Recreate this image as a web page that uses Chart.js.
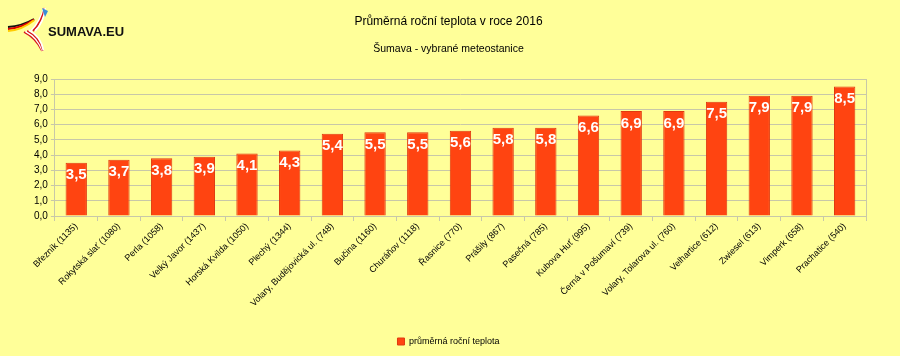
<!DOCTYPE html>
<html><head><meta charset="utf-8">
<script src="https://cdn.jsdelivr.net/npm/chart.js@4"></script>
<style>
html,body{margin:0;padding:0;background:#FFFF99;}
#wrap{position:relative;width:900px;height:356px;}
</style></head>
<body><div id="wrap"><canvas id="c" width="900" height="356"></canvas>
<div style="position:absolute;left:48px;top:24px;font:bold 13px 'Liberation Sans',Arial,sans-serif;color:#111;">SUMAVA.EU</div></div>
<script>
const categories = ["Březník (1135)","Rokytská slať (1080)","Perla (1058)","Velký Javor (1437)","Horská Kvilda (1050)","Plechý (1344)","Volary, Budějovická ul. (748)","Bučina (1160)","Churáňov (1118)","Řasnice (770)","Prášily (867)","Pasečná (785)","Kubova Huť (995)","Černá v Pošumaví (739)","Volary, Tolarova ul. (760)","Velhartice (612)","Zwiesel (613)","Vimperk (658)","Prachatice (540)"];
const temperature = [3.5,3.7,3.8,3.9,4.1,4.3,5.4,5.5,5.5,5.6,5.8,5.8,6.6,6.9,6.9,7.5,7.9,7.9,8.5];
const seriesName = "průměrná roční teplota";
const titleText = "Průměrná roční teplota v roce 2016";
const subtitleText = "Šumava - vybrané meteostanice";

const fmt = v => v.toFixed(1).replace('.', ',');
const FONT = "'Liberation Sans', Arial, sans-serif";

function swoosh(ctx, colors, x0,y0, cx,cy, x1,y1, dx,dy, w){
  colors.forEach((c,i)=>{
    ctx.strokeStyle=c; ctx.lineWidth=w;
    ctx.beginPath();
    ctx.moveTo(x0+i*dx, y0+i*dy);
    ctx.quadraticCurveTo(cx+i*dx, cy+i*dy, x1+i*dx*0.3, y1+i*dy*0.3);
    ctx.stroke();
  });
}

const extras = {
  id:'extras',
  beforeDraw(chart){
    const ctx = chart.ctx;
    ctx.save();
    ctx.fillStyle = '#FFFF99';
    ctx.fillRect(0,0,chart.width,chart.height);
    ctx.lineCap='butt';
    swoosh(ctx,['#111111','#DD0000','#FFCC00'], 8,27, 22,26, 34,19, 0,2, 2);
    swoosh(ctx,['#FFFFFF','#D7141A','#FFFFFF'], 31,31, 40,22, 44,8, 2,0, 1.8);
    ctx.fillStyle='#3A8FD8';
    ctx.beginPath(); ctx.moveTo(42,8); ctx.lineTo(48,11); ctx.lineTo(45,17); ctx.closePath(); ctx.fill();
    swoosh(ctx,['#D7141A','#FFFFFF','#D7141A','#FFFFFF'], 24,32, 36,38, 42,51, 1.6,-0.6, 1.7);
    ctx.restore();
  },
  afterDatasetsDraw(chart){
    const ctx = chart.ctx;
    const meta = chart.getDatasetMeta(0);
    ctx.save();
    ctx.font = "bold 15px " + FONT;
    ctx.fillStyle = '#FFFFFF';
    ctx.textAlign = 'center';
    ctx.textBaseline = 'top';
    meta.data.forEach((bar,i)=>{
      ctx.fillText(fmt(temperature[i]), bar.x, bar.y + 5);
    });
    const a = chart.chartArea;
    ctx.strokeStyle = '#C8C8A8';
    ctx.lineWidth = 1;
    ctx.beginPath();
    ctx.moveTo(Math.round(a.right)+0.5, a.top);
    ctx.lineTo(Math.round(a.right)+0.5, a.bottom+5);
    ctx.stroke();
    ctx.restore();
  }
};

new Chart(document.getElementById('c'), {
  type:'bar',
  data:{labels:categories, datasets:[{label:seriesName, data:temperature,
    backgroundColor:'#FF4411', borderColor:'#E03A10', borderWidth:1,
    barPercentage:0.5, categoryPercentage:1.0}]},
  options:{
    responsive:false, animation:false,
    layout:{padding:{left:31,right:34,top:0,bottom:0}},
    plugins:{
      title:{display:true,text:titleText,color:'#000',font:{family:FONT,size:12,weight:'normal'},padding:{top:14,bottom:14}},
      subtitle:{display:true,text:subtitleText,color:'#000',font:{family:FONT,size:10.5,weight:'normal'},padding:{top:0,bottom:24}},
      legend:{position:'bottom',labels:{color:'#000',font:{family:FONT,size:9},boxWidth:7,boxHeight:7,padding:8}},
      tooltip:{enabled:false}
    },
    scales:{
      x:{grid:{offset:true,drawOnChartArea:false,color:'#C8C8A8',tickLength:5},
         border:{color:'#C8C8A8'},
         afterFit(s){ s.height = 113; },
         ticks:{color:'#000',font:{family:FONT,size:9},maxRotation:45,minRotation:45,autoSkip:false,padding:0}},
      y:{min:0,max:9,grid:{color:'#C8C8A8',tickLength:4},border:{color:'#C8C8A8'},
         ticks:{stepSize:1,color:'#000',font:{family:FONT,size:10},callback:v=>fmt(v),padding:3}}
    }
  },
  plugins:[extras]
});
</script>
</body></html>
